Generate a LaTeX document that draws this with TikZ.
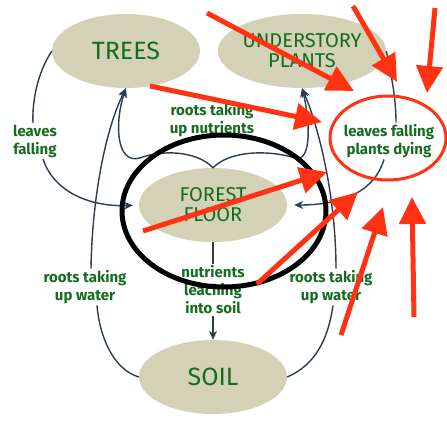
\documentclass[tikz,border=0pt]{standalone}
\usepackage{fontspec}
\setmainfont{Fira Sans}
\usetikzlibrary{arrows.meta,shapes.geometric}
\definecolor{khaki}{RGB}{212,210,182}
\definecolor{tgreen}{RGB}{22,108,30}
\definecolor{slate}{RGB}{44,60,78}
\definecolor{hred}{RGB}{255,50,20}
\begin{document}
\begin{tikzpicture}[x=1pt,y=-1pt,
 concept/.style={ellipse, fill=khaki, minimum width=148pt, minimum height=74pt, inner sep=0pt, text=tgreen, align=center},
 bigtxt/.style={font=\fontsize{25}{25}\selectfont},
 midtxt/.style={font=\fontsize{20}{20}\selectfont},
 lab/.style={text=tgreen, font=\fontsize{15}{18}\selectfont\bfseries, align=center, inner sep=1.5pt},
 conn/.style={draw=slate, line width=1.4pt},
 tipd/.style={-{Stealth[length=9pt,width=8pt]}},
 redarrow/.style={draw=hred, line width=5pt, -{Triangle[length=27pt 0 0,width=26pt 0 0]}},
]
\useasboundingbox (0,0) rectangle (447,423);
% concept nodes
\node[concept, bigtxt] (trees) at (126,51) {TREES};
\node[concept, midtxt] (under) at (302,51) {UNDERSTORY\\PLANTS};
\node[concept, midtxt] (floor) at (213,205) {FOREST\\FLOOR};
\node[concept, bigtxt] (soil) at (213,377) {SOIL};
% labels
\node[lab] (lf) at (35,141) {leaves\\falling};
\node[lab] (rtn) at (212,120) {roots taking\\up nutrients};
\node[lab] (rtwl) at (85,287) {roots taking\\up water};
\node[lab] (rtwr) at (331,287) {roots taking\\up water};
\node[lab] (nlis) at (213,290) {nutrients\\leaching\\into soil};
\node[lab] (lfpd) at (389,141) {leaves falling\\plants dying};
% connectors
\draw[conn] (trees.west) .. controls (38,72) and (32,100) .. ([xshift=-2pt]lf.north);
\draw[conn, tipd, shorten >=6pt] ([xshift=8pt]lf.south) .. controls (55,195) and (95,207) .. (floor.west);
\draw[conn] (soil.west) .. controls (115,370) and (100,340) .. ([xshift=12pt]rtwl.south);
\draw[conn, tipd] ([xshift=6pt]rtwl.north) .. controls (92,200) and (105,130) .. (trees.south);
\draw[conn, tipd] (floor.north) .. controls (196,150) and (160,150) .. (140,158) .. controls (115,165) and (115,120) .. (trees.south);
\draw[conn, tipd] (floor.north) .. controls (230,150) and (270,150) .. (295,158) .. controls (312,163) and (310,120) .. (under.south);
\draw[conn] (soil.east) .. controls (315,365) and (328,340) .. ([xshift=2pt]rtwr.south);
\draw[conn, tipd] ([xshift=5pt]rtwr.north) .. controls (336,200) and (320,130) .. (under.south);
\draw[conn] (under.east) .. controls (390,70) and (396,95) .. ([xshift=7pt]lfpd.north);
\draw[conn, tipd, shorten >=7pt] ([xshift=-5pt]lfpd.south) .. controls (375,190) and (345,205) .. (floor.east);
\draw[conn] (floor.south) -- (nlis.north);
\draw[conn, tipd] (nlis.south) -- (soil.north);
% highlight ellipses
\node[ellipse, draw=black, line width=5pt, minimum width=204pt, minimum height=152pt, inner sep=0pt] (hlfloor) at (224,211) {};
\node[ellipse, draw=hred, line width=3pt, minimum width=116pt, minimum height=84pt, inner sep=0pt] (hllf) at (388,138) {};
% red arrows
\coordinate (a1s) at (207,13);  \coordinate (a1e) at (354,91);
\coordinate (a2s) at (353,6);   \coordinate (a2e) at (397,82);
\coordinate (a3s) at (435,8);   \coordinate (a3e) at (427,93);
\coordinate (a4s) at (150,86);  \coordinate (a4e) at (322,122);
\coordinate (a5s) at (143,231); \coordinate (a5e) at (327,172);
\coordinate (a6s) at (257,284); \coordinate (a6e) at (358,192);
\coordinate (a7s) at (341,335); \coordinate (a7e) at (383,207);
\coordinate (a8s) at (414,317); \coordinate (a8e) at (412,197);
\foreach \i in {1,...,8} {\draw[redarrow] (a\i s) -- (a\i e);}
\end{tikzpicture}
\end{document}
